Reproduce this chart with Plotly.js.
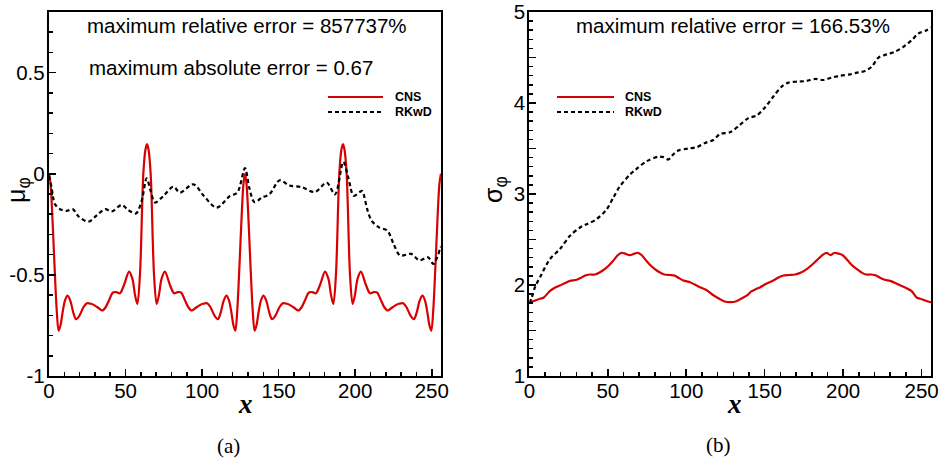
<!DOCTYPE html>
<html>
<head>
<meta charset="utf-8">
<script src="https://cdn.plot.ly/plotly-3.0.1.min.js"></script>
<style>html,body{margin:0;padding:0;background:#fff;}#chart{width:940px;height:460px;}</style>
</head>
<body>
<div id="chart"></div>
<script>
// ---- Panel (a): mean mu_phi ----
const muCnsX = [0,1,2,3,4,5,6.3,7.5,9,10.5,12.1,14,16,17.7,20,22.5,24.7,27.5,30,32.5,34.8,37,39.5,41.7,44,46.3,49,52.3,54.5,56.2,57.7,59.4,61.6,63,64,
  65,66.4,68.6,70.3,71.8,73.5,75.7,79,81.7,84,86.3,88.5,91,93.2,95.5,98,100.5,103.3,105.5,108,110.3,112,114,115.9,117.5,119,120.5,121.7,123,124,125,126,127,128,
  129,130,131,132,133,134.3,135.5,137,138.5,140.1,142,144,145.7,148,150.5,152.7,155.5,158,160.5,162.8,165,167.5,169.7,172,174.3,177,180.3,182.5,184.2,185.7,187.4,189.6,191,192,
  193,194.4,196.6,198.3,199.8,201.5,203.7,207,209.7,212,214.3,216.5,219,221.2,223.5,226,228.5,231.3,233.5,236,238.3,240,242,243.9,245.5,247,248.5,249.7,251,252,253,254,255,256];
const muCnsY = [0,-0.05,-0.18,-0.35,-0.52,-0.67,-0.776,-0.75,-0.68,-0.625,-0.603,-0.63,-0.69,-0.719,-0.70,-0.66,-0.64,-0.643,-0.652,-0.665,-0.676,-0.66,-0.62,-0.587,-0.585,-0.591,-0.55,-0.484,-0.52,-0.60,-0.644,-0.5,0,0.12,0.147,
  0.12,0,-0.5,-0.644,-0.60,-0.52,-0.484,-0.55,-0.591,-0.585,-0.587,-0.62,-0.66,-0.676,-0.665,-0.652,-0.643,-0.64,-0.66,-0.70,-0.719,-0.69,-0.63,-0.603,-0.625,-0.68,-0.75,-0.776,-0.67,-0.52,-0.35,-0.18,-0.05,0,
  -0.05,-0.18,-0.35,-0.52,-0.67,-0.776,-0.75,-0.68,-0.625,-0.603,-0.63,-0.69,-0.719,-0.70,-0.66,-0.64,-0.643,-0.652,-0.665,-0.676,-0.66,-0.62,-0.587,-0.585,-0.591,-0.55,-0.484,-0.52,-0.60,-0.644,-0.5,0,0.12,0.147,
  0.12,0,-0.5,-0.644,-0.60,-0.52,-0.484,-0.55,-0.591,-0.585,-0.587,-0.62,-0.66,-0.676,-0.665,-0.652,-0.643,-0.64,-0.66,-0.70,-0.719,-0.69,-0.63,-0.603,-0.625,-0.68,-0.75,-0.776,-0.67,-0.52,-0.35,-0.18,-0.05,0];

const muRkX = [0,1.5,3.9,7.2,11.5,15.5,19.2,25.7,31,36.6,41,47.5,51.8,56.8,60.5,63.8,66.4,69.2,74.7,81.2,85.5,94.3,101.2,109.5,118.2,123,128,130.8,134.2,139,144.1,150.7,157,165,173.7,181.4,186.8,192.2,195.5,199,203,204.5,208,210.7,215.5,221,225,229.3,236.5,242,247.5,251,253.6,255.4,256];
const muRkY = [-0.01,-0.06,-0.15,-0.175,-0.183,-0.175,-0.21,-0.237,-0.207,-0.175,-0.186,-0.154,-0.18,-0.196,-0.134,-0.023,-0.085,-0.142,-0.11,-0.064,-0.093,-0.052,-0.11,-0.167,-0.11,-0.093,0.028,-0.069,-0.14,-0.118,-0.10,-0.032,-0.058,-0.066,-0.09,-0.044,-0.102,0.059,-0.02,-0.109,-0.09,-0.085,-0.18,-0.232,-0.265,-0.281,-0.346,-0.404,-0.396,-0.428,-0.413,-0.446,-0.412,-0.371,-0.36];

// ---- Panel (b): standard deviation sigma_phi ----
const sgCnsX = [0,3,6.8,9,13.2,16.5,19.5,22.5,25.9,30.2,33,35.5,38.5,41.9,45,48.2,51,53.5,56.5,58.8,61,64,
  67,69.2,71.5,74.5,77,79.8,83,86.1,89.5,92.5,95,98.2,102.4,105.5,108.8,111.5,114.1,117,121,124,128,
  132,135,139,141.5,144.5,147.2,150,153,155.5,158.5,162,165.5,169.5,173.5,177,180,183,187,189.5,192,
  194.5,197,199.5,203,205.5,208.5,211.5,214.5,218.1,221,223.5,226.5,230,233.5,236.5,239.5,243.5,247,249.2,253,256];
const sgCnsY = [1.81,1.825,1.849,1.86,1.935,1.972,1.995,2.02,2.045,2.058,2.08,2.104,2.115,2.115,2.14,2.177,2.22,2.268,2.33,2.354,2.345,2.328,
  2.345,2.354,2.33,2.268,2.22,2.177,2.14,2.115,2.11,2.104,2.08,2.049,2.031,2.005,1.976,1.955,1.93,1.89,1.849,1.822,1.812,
  1.822,1.849,1.89,1.93,1.955,1.976,2.005,2.031,2.049,2.08,2.104,2.11,2.115,2.14,2.177,2.22,2.268,2.33,2.354,2.328,
  2.354,2.345,2.33,2.268,2.22,2.177,2.14,2.115,2.115,2.104,2.08,2.058,2.045,2.02,1.995,1.972,1.935,1.86,1.849,1.825,1.81];

const sgRkX = [0,1.5,3.6,6.8,13.2,19.5,25.9,32.3,36.5,41.9,49.3,53.5,57.8,64.2,68.4,74.8,82.2,85.5,88.6,92,95,101.3,106.6,112,117.3,121.5,127.9,134.3,139.6,144.9,150.2,155.5,160.8,165.1,171.4,176.7,182.1,187.4,192.7,198,204.4,209.7,213.9,218.2,222.4,227.7,233,238.4,243.7,247.9,253.2,256];
const sgRkY = [1.80,1.86,1.976,2.086,2.286,2.395,2.54,2.632,2.668,2.712,2.832,2.96,3.087,3.215,3.277,3.36,3.41,3.405,3.379,3.44,3.477,3.50,3.514,3.561,3.594,3.66,3.678,3.761,3.834,3.863,3.951,4.071,4.18,4.224,4.235,4.242,4.264,4.253,4.279,4.30,4.315,4.337,4.351,4.399,4.497,4.534,4.563,4.617,4.69,4.763,4.80,4.83];

// ---- Labels ----
const seriesNames = ['CNS', 'RKwD'];
const xTickVals = [0, 50, 100, 150, 200, 250];
const muTickVals = [-1, -0.5, 0, 0.5];
const muTickText = ['-1', '-0.5', '0', '0.5'];
const sgTickVals = [1, 1.5, 2, 2.5, 3, 3.5, 4, 4.5, 5];
const sgTickText = ['1', '', '2', '', '3', '', '4', '', '5'];
const noteA1 = 'maximum relative error = 857737%';
const noteA2 = 'maximum absolute error = 0.67';
const noteB1 = 'maximum relative error = 166.53%';

const RED = '#d80000';
const sans = 'Liberation Sans, Arial, Helvetica, sans-serif';
const serif = 'Liberation Serif, Times New Roman, serif';

const cnsLine = {color: RED, width: 2.2, shape: 'spline', smoothing: 0.9};
const rkLine = {color: '#000', width: 2.2, dash: '4px,3px', shape: 'spline', smoothing: 0.9};

const traces = [
  {x: muCnsX, y: muCnsY, name: seriesNames[0], mode: 'lines', line: cnsLine, xaxis: 'x', yaxis: 'y'},
  {x: muRkX, y: muRkY, name: seriesNames[1], mode: 'lines', line: rkLine, xaxis: 'x', yaxis: 'y'},
  {x: sgCnsX, y: sgCnsY, name: seriesNames[0], mode: 'lines', line: cnsLine, xaxis: 'x2', yaxis: 'y2'},
  {x: sgRkX, y: sgRkY, name: seriesNames[1], mode: 'lines', line: rkLine, xaxis: 'x2', yaxis: 'y2'}
];

const tickFont = {family: sans, size: 20.5, color: '#000'};
function xAxis(domain, anchor) {
  return {
    domain: domain, anchor: anchor, range: [0, 256], tickvals: xTickVals,
    ticks: 'inside', ticklen: 7, tickwidth: 1.5, tickcolor: '#000', ticklabelstandoff: -5,
    ticklabeloverflow: 'allow',
    minor: {dtick: 10, ticks: 'inside', ticklen: 4, tickwidth: 1.5, tickcolor: '#000'},
    showline: true, linewidth: 2.2, linecolor: '#000', mirror: true,
    showgrid: false, zeroline: false, tickfont: tickFont
  };
}
function yAxis(range, tv, tt, anchor) {
  return {
    anchor: anchor, range: range, tickvals: tv, ticktext: tt,
    ticks: 'inside', ticklen: 7, tickwidth: 1.5, tickcolor: '#000', ticklabelstandoff: -2,
    ticklabeloverflow: 'allow',
    minor: {dtick: 0.1, ticks: 'inside', ticklen: 4, tickwidth: 1.5, tickcolor: '#000'},
    showline: true, linewidth: 2.2, linecolor: '#000', mirror: true,
    showgrid: false, zeroline: false, tickfont: tickFont
  };
}

// paper coordinate helpers (plot area: left 49px, top 12px, 882 x 364 px)
const TOP = 12, PH = 364;
const px = v => (v - 49) / 882;
const py = v => 1 - (v - TOP) / PH;

const legFont = {family: sans, size: 12.5, color: '#000', weight: 'bold'};
const txt = (x, y, text, font, extra) => Object.assign({xref: 'paper', yref: 'paper', x: px(x), y: py(y), text: text, showarrow: false, xanchor: 'center', yanchor: 'middle', font: font}, extra || {});
const big = {family: sans, size: 20.5, color: '#000'};

const layout = {
  width: 940, height: 460,
  margin: {l: 49, r: 9, t: TOP, b: 460 - TOP - PH},
  paper_bgcolor: '#fff', plot_bgcolor: '#fff',
  showlegend: false,
  xaxis: xAxis([0, 0.4444], 'y'),
  yaxis: yAxis([-1, 0.8], muTickVals, muTickText, 'x'),
  xaxis2: xAxis([0.5446, 1], 'y2'),
  yaxis2: yAxis([1, 5], sgTickVals, sgTickText, 'x2'),
  shapes: [
    {type: 'line', xref: 'paper', yref: 'paper', x0: px(328), x1: px(383), y0: py(97), y1: py(97), line: {color: RED, width: 2.2}},
    {type: 'line', xref: 'paper', yref: 'paper', x0: px(328), x1: px(383), y0: py(112), y1: py(112), line: {color: '#000', width: 2.2, dash: '4px,3px'}},
    {type: 'line', xref: 'paper', yref: 'paper', x0: px(557), x1: px(614), y0: py(97), y1: py(97), line: {color: RED, width: 2.2}},
    {type: 'line', xref: 'paper', yref: 'paper', x0: px(557), x1: px(614), y0: py(112), y1: py(112), line: {color: '#000', width: 2.2, dash: '4px,3px'}}
  ],
  annotations: [
    txt(246.5, 26, noteA1, big),
    txt(87, 67.5, noteA2, big, {xanchor: 'left'}),
    txt(733, 26, noteB1, big),
    txt(393, 97, seriesNames[0], legFont, {xanchor: 'left'}),
    txt(393, 112, seriesNames[1], legFont, {xanchor: 'left'}),
    txt(623, 97, seriesNames[0], legFont, {xanchor: 'left'}),
    txt(623, 112, seriesNames[1], legFont, {xanchor: 'left'}),
    txt(18, 190, 'μ<sub>φ</sub>', {family: sans, size: 25, color: '#000'}, {textangle: -90}),
    txt(495, 190, 'σ<sub>φ</sub>', {family: sans, size: 25, color: '#000'}, {textangle: -90}),
    txt(245, 404, 'x', {family: serif, size: 27, style: 'italic', weight: 'bold', color: '#000'}),
    txt(734, 404, 'x', {family: serif, size: 27, style: 'italic', weight: 'bold', color: '#000'}),
    txt(228.5, 446, '(a)', {family: serif, size: 21, color: '#000'}),
    txt(718, 445, '(b)', {family: serif, size: 21, color: '#000'})
  ]
};

Plotly.newPlot('chart', traces, layout, {displayModeBar: false, staticPlot: true});
</script>
</body>
</html>
